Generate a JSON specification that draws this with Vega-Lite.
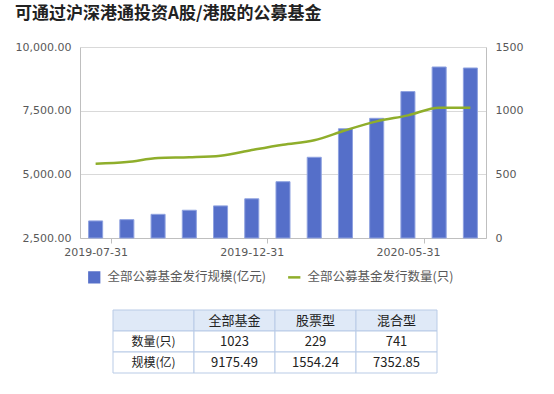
{
  "$schema": "https://vega.github.io/schema/vega-lite/v6.json",
  "padding": {"left": 15, "top": 5, "right": 5, "bottom": 5},
  "background": "white",
  "title": {"text": "可通过沪深港通投资A股/港股的公募基金", "anchor": "start", "fontSize": 17, "fontWeight": "bold", "font": "Noto Sans CJK SC", "color": "#222222", "offset": 18},
  "center": true,
  "spacing": 17,
  "resolve": {"scale": {"color": "independent"}, "legend": {"color": "independent"}},
  "config": {
    "view": {"stroke": null},
    "axis": {"labelFont": "DejaVu Sans", "labelFontSize": 11, "labelColor": "#595959"},
    "legend": {"orient": "bottom", "direction": "horizontal", "title": null,
      "labelFont": "Noto Sans CJK SC", "labelFontSize": 12.5, "labelColor": "#595959",
      "symbolSize": 150, "labelOffset": 7, "columnPadding": 17, "offset": 6, "padding": 8}
  },
  "vconcat": [
    {
      "width": 406,
      "height": 191,
      "data": {"values": [
        {"date": "2019-07-31", "scale": 3170, "count": 583},
        {"date": "2019-08-31", "scale": 3220, "count": 597},
        {"date": "2019-09-30", "scale": 3430, "count": 628},
        {"date": "2019-10-31", "scale": 3590, "count": 634},
        {"date": "2019-11-30", "scale": 3760, "count": 646},
        {"date": "2019-12-31", "scale": 4040, "count": 691},
        {"date": "2020-01-31", "scale": 4710, "count": 733},
        {"date": "2020-02-29", "scale": 5670, "count": 767},
        {"date": "2020-03-31", "scale": 6790, "count": 846},
        {"date": "2020-04-30", "scale": 7200, "count": 916},
        {"date": "2020-05-31", "scale": 8250, "count": 963},
        {"date": "2020-06-30", "scale": 9215, "count": 1023},
        {"date": "2020-07-31", "scale": 9175.49, "count": 1023}
      ]},
      "layer": [
        {
          "mark": {"type": "bar", "stroke": "#8fa2e0", "strokeWidth": 1},
          "encoding": {
            "x": {"field": "date", "type": "ordinal", "sort": null,
              "scale": {"paddingInner": 0.55, "paddingOuter": 0.275},
              "axis": {"title": null, "values": ["2019-07-31", "2019-12-31", "2020-05-31"], "labelAngle": 0,
                "tickOffset": 15.615, "labelOffset": -15.615, "tickSize": 5, "tickColor": "#bfbfbf",
                "domainColor": "#bfbfbf", "labelPadding": 3}},
            "y": {"field": "scale", "type": "quantitative",
              "scale": {"domain": [2500, 10000], "zero": false, "nice": false},
              "axis": {"title": null, "values": [2500, 5000, 7500, 10000], "format": ",.2f", "grid": true,
                "gridColor": "#d9d9d9", "ticks": false, "tickSize": 0, "labelPadding": 9, "domainColor": "#bfbfbf"}},
            "y2": {"datum": 2500},
            "color": {"datum": "全部公募基金发行规模(亿元)",
              "scale": {"domain": ["全部公募基金发行规模(亿元)", "全部公募基金发行数量(只)"], "range": ["#556fc9", "#8fae2b"]},
              "legend": {
                "encode": {"symbols": {"update": {
                  "shape": {"signal": "datum.value === '全部公募基金发行数量(只)' ? 'stroke' : 'square'"},
                  "fill": {"signal": "datum.value === '全部公募基金发行数量(只)' ? 'transparent' : '#556fc9'"},
                  "stroke": {"signal": "datum.value === '全部公募基金发行数量(只)' ? '#8fae2b' : '#556fc9'"},
                  "strokeWidth": {"signal": "datum.value === '全部公募基金发行数量(只)' ? 2.5 : 0"}
                }}}}}
          }
        },
        {
          "mark": {"type": "line", "interpolate": "monotone", "strokeWidth": 2.5},
          "encoding": {
            "x": {"field": "date", "type": "ordinal", "sort": null},
            "y": {"field": "count", "type": "quantitative",
              "scale": {"domain": [0, 1500], "nice": false},
              "axis": {"title": null, "orient": "right", "values": [0, 500, 1000, 1500], "format": "d", "grid": false,
                "ticks": false, "tickSize": 0, "labelPadding": 9, "domainColor": "#bfbfbf"}},
            "color": {"datum": "全部公募基金发行数量(只)",
              "legend": {
                "encode": {"symbols": {"update": {
                  "shape": {"signal": "datum.value === '全部公募基金发行数量(只)' ? 'stroke' : 'square'"},
                  "fill": {"signal": "datum.value === '全部公募基金发行数量(只)' ? 'transparent' : '#556fc9'"},
                  "stroke": {"signal": "datum.value === '全部公募基金发行数量(只)' ? '#8fae2b' : '#556fc9'"},
                  "strokeWidth": {"signal": "datum.value === '全部公募基金发行数量(只)' ? 2.5 : 0"}
                }}}}}
          }
        }
      ],
      "resolve": {"scale": {"y": "independent"}}
    },
    {
      "width": 324,
      "height": 63,
      "data": {"values": [
        {"row": 0, "col": 0, "text": ""},
        {"row": 0, "col": 1, "text": "全部基金"},
        {"row": 0, "col": 2, "text": "股票型"},
        {"row": 0, "col": 3, "text": "混合型"},
        {"row": 1, "col": 0, "text": "数量(只)"},
        {"row": 1, "col": 1, "text": "1023"},
        {"row": 1, "col": 2, "text": "229"},
        {"row": 1, "col": 3, "text": "741"},
        {"row": 2, "col": 0, "text": "规模(亿)"},
        {"row": 2, "col": 1, "text": "9175.49"},
        {"row": 2, "col": 2, "text": "1554.24"},
        {"row": 2, "col": 3, "text": "7352.85"}
      ]},
      "layer": [
        {
          "mark": {"type": "rect", "stroke": "#b9cbe6", "strokeWidth": 1},
          "encoding": {
            "x": {"field": "col", "type": "ordinal", "axis": null, "scale": {"padding": 0}},
            "y": {"field": "row", "type": "ordinal", "scale": {"padding": 0},
              "axis": {"title": null, "orient": "right", "labels": false, "domain": false, "ticks": true, "tickSize": 53, "tickOpacity": 0}},
            "fill": {"condition": {"test": "datum.row === 0", "value": "#dfe9f7"}, "value": "#ffffff"}
          }
        },
        {
          "mark": {"type": "text", "font": "Noto Sans CJK SC", "color": "#222222"},
          "encoding": {
            "x": {"field": "col", "type": "ordinal"},
            "y": {"field": "row", "type": "ordinal"},
            "text": {"field": "text"},
            "fontWeight": {"condition": {"test": "datum.row === 0", "value": "bold"}, "value": "normal"},
            "size": {"condition": {"test": "datum.col === 0", "value": 12}, "value": 13}
          }
        }
      ]
    }
  ]
}
